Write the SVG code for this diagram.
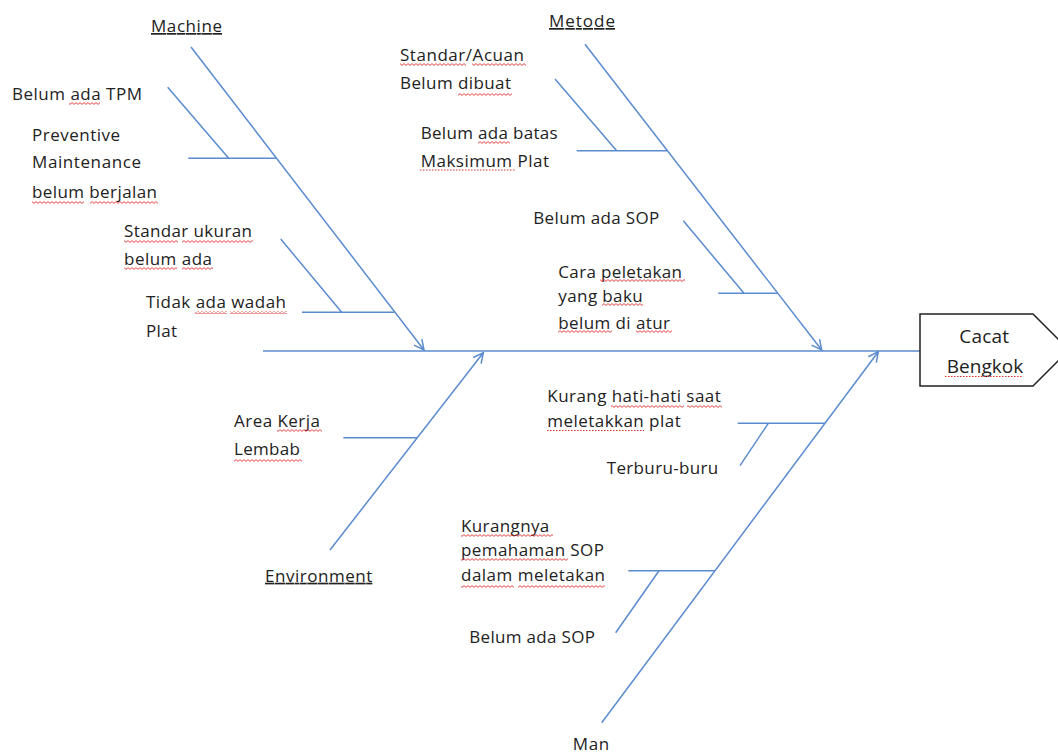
<svg xmlns="http://www.w3.org/2000/svg" width="1058" height="755" viewBox="0 0 1058 755">
<defs>
<style>
.t{font-family:"Open Sans","Noto Sans",sans-serif;font-size:17px;fill:#222}
.h{font-family:"Open Sans","Noto Sans",sans-serif;font-size:19px;fill:#222}
.u{text-decoration:underline}
.b{stroke:#5b8bcf;stroke-width:1.5;fill:none}
.sq{fill:url(#zig)}
.dt{stroke:#e03030;stroke-width:1.2;stroke-dasharray:1.5 1.5;fill:none}
</style>
<pattern id="zig" patternUnits="userSpaceOnUse" width="4" height="3">
<path d="M0,0.6 L2,2.4 L4,0.6" stroke="#e03030" stroke-width="0.9" fill="none"/>
</pattern>
<marker id="ah" viewBox="0 0 12 12" refX="11" refY="6" markerWidth="12" markerHeight="12" markerUnits="userSpaceOnUse" orient="auto">
<path d="M1,1 L11,6 L1,11" fill="none" stroke="#5b8bcf" stroke-width="1.5"/>
</marker>
</defs>
<rect width="1058" height="755" fill="#fff"/>

<g id="connectors">
<path class="b" d="M263,351 H920"/>
<path class="b" d="M191,47 L424,350" marker-end="url(#ah)"/>
<path class="b" d="M167.7,87.3 L228.7,158.3 M188.3,158.3 H276.5"/>
<path class="b" d="M280.7,239 L341.7,312.3 M302,312.3 H394"/>
<path class="b" d="M585,44.3 L821.7,350" marker-end="url(#ah)"/>
<path class="b" d="M555,79 L616.7,150.7 M576.7,150.7 H667.4"/>
<path class="b" d="M683.3,220.7 L744,293.3 M718.3,293.3 H777.7"/>
<path class="b" d="M330,550 L483.3,352.7" marker-end="url(#ah)"/>
<path class="b" d="M343.3,437.7 H417.3"/>
<path class="b" d="M601.7,722.7 L878.3,351.7" marker-end="url(#ah)"/>
<path class="b" d="M737.7,423.3 H825 M768.3,423.3 L740,465.7"/>
<path class="b" d="M628.3,570.7 H715 M659,570.7 L615.7,632.7"/>
</g>

<g id="head">
<path d="M920,314 H1033 L1069,350 L1033,386 H920 Z" fill="#fff" stroke="#222" stroke-width="1.5"/>
<text class="h" x="959.3" y="342.7" textLength="49.7">Cacat</text>
<text class="h" x="946.7" y="372.7" textLength="76.6">Bengkok</text>
<path class="dt" d="M945,376.5 H1023"/>
</g>

<g id="machine">
<text class="t u" x="151" y="32" textLength="71">Machine</text>
<text class="t" x="12" y="100" textLength="130">Belum ada TPM</text>
<text class="t" x="32" y="141" textLength="88">Preventive</text>
<text class="t" x="32" y="168" textLength="109">Maintenance</text>
<text class="t" x="32" y="198" textLength="125">belum berjalan</text>
<text class="t" x="124" y="237" textLength="128">Standar ukuran</text>
<text class="t" x="124" y="265" textLength="88">belum ada</text>
<text class="t" x="146" y="308" textLength="140">Tidak ada wadah</text>
<text class="t" x="146" y="337" textLength="31">Plat</text>
<rect class="sq" x="69" y="102" width="31" height="3"/>
<rect class="sq" x="32" y="201" width="52" height="3"/>
<rect class="sq" x="90" y="201" width="68" height="3"/>
<rect class="sq" x="124" y="240" width="54" height="3"/>
<rect class="sq" x="182" y="240" width="71" height="3"/>
<rect class="sq" x="124" y="267" width="53" height="3"/>
<rect class="sq" x="182" y="267" width="31" height="3"/>
<rect class="sq" x="195" y="311" width="32" height="3"/>
<rect class="sq" x="230" y="311" width="57" height="3"/>
</g>

<g id="metode">
<text class="t u" x="549" y="27" textLength="66">Metode</text>
<text class="t" x="400" y="61" textLength="124">Standar/Acuan</text>
<text class="t" x="400" y="89" textLength="111">Belum dibuat</text>
<text class="t" x="420.7" y="139" textLength="137">Belum ada batas</text>
<text class="t" x="420.7" y="167" textLength="128.3">Maksimum Plat</text>
<text class="t" x="533.3" y="224" textLength="126">Belum ada SOP</text>
<text class="t" x="558.3" y="277.7" textLength="123.7">Cara peletakan</text>
<text class="t" x="558.3" y="301.7" textLength="84.4">yang baku</text>
<text class="t" x="558.3" y="329" textLength="111.7">belum di atur</text>
<rect class="sq" x="400" y="63" width="66" height="3"/>
<rect class="sq" x="472" y="63" width="54" height="3"/>
<rect class="sq" x="458" y="93" width="54" height="3"/>
<rect class="sq" x="478" y="141" width="32" height="3"/>
<path class="dt" d="M420,170 H515"/>
<rect class="sq" x="600" y="279" width="85" height="3"/>
<rect class="sq" x="602" y="303" width="41" height="3"/>
<rect class="sq" x="558" y="330" width="54" height="3"/>
<rect class="sq" x="636" y="330" width="36" height="3"/>
</g>

<g id="environment">
<text class="t u" x="265" y="581.7" textLength="107.3">Environment</text>
<text class="t" x="234" y="427.3" textLength="86">Area Kerja</text>
<text class="t" x="234" y="455" textLength="66">Lembab</text>
<rect class="sq" x="277" y="429" width="45" height="3"/>
<rect class="sq" x="234" y="459" width="68" height="3"/>
</g>

<g id="man">
<text class="t" x="572.7" y="750" textLength="36.6">Man</text>
<text class="t" x="547.3" y="402.3" textLength="173.4">Kurang hati-hati saat</text>
<text class="t" x="547.3" y="427.3" textLength="133.4">meletakkan plat</text>
<text class="t" x="606.7" y="474" textLength="111.6">Terburu-buru</text>
<text class="t" x="461" y="531.7" textLength="88.3">Kurangnya</text>
<text class="t" x="461" y="556" textLength="143">pemahaman SOP</text>
<text class="t" x="461" y="580.7" textLength="144">dalam meletakan</text>
<text class="t" x="469.3" y="643.3" textLength="125.7">Belum ada SOP</text>
<rect class="sq" x="611" y="405" width="73" height="3"/>
<rect class="sq" x="687" y="405" width="35" height="3"/>
<path class="dt" d="M547,430.5 H644"/>
<rect class="sq" x="461" y="534" width="92" height="3"/>
<rect class="sq" x="461" y="558" width="107" height="3"/>
<rect class="sq" x="461" y="585" width="53" height="3"/>
<rect class="sq" x="518" y="585" width="87" height="3"/>
</g>
</svg>
